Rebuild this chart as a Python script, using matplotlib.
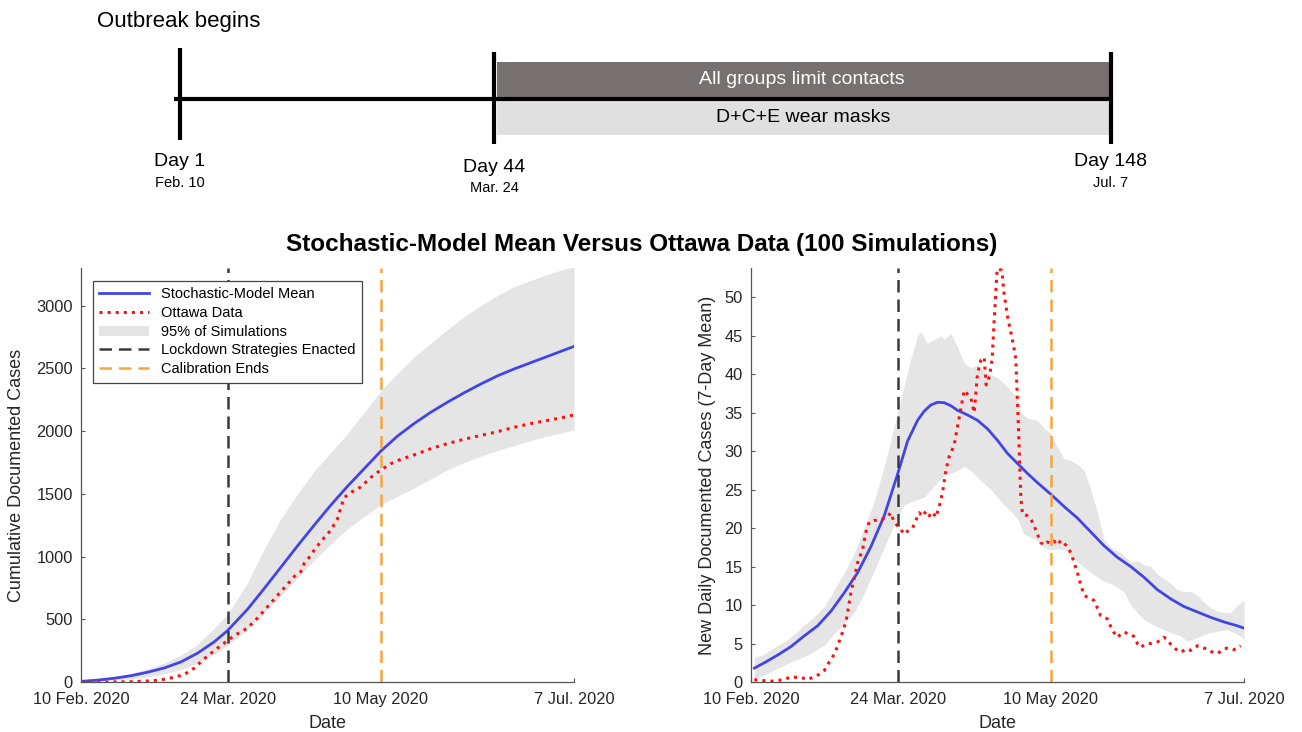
import matplotlib
matplotlib.use("Agg")
import matplotlib.pyplot as plt
import numpy as np
from matplotlib.lines import Line2D
from matplotlib.patches import Patch, Rectangle

plt.rcParams['font.family'] = ['Liberation Sans', 'DejaVu Sans']

# ---------------- data ----------------
# x axis: days since 10 Feb 2020
tick_days = [0, 44, 90, 148]
tick_labels = ['10 Feb. 2020', '24 Mar. 2020', '10 May 2020', '7 Jul. 2020']
lockdown_day = 44
calib_end_day = 90

# Left: cumulative documented cases
cum_days = [0, 5, 10, 15, 20, 25, 30, 35, 40, 44, 50, 55, 60, 65, 70, 75, 80, 85, 90,
            95, 100, 105, 110, 115, 120, 125, 130, 135, 140, 145, 148]
cum_mean = [5, 15, 30, 50, 78, 112, 160, 230, 320, 410, 580, 745, 915, 1085, 1250, 1410,
            1560, 1700, 1840, 1960, 2060, 2150, 2230, 2305, 2375, 2440, 2495, 2545, 2595,
            2645, 2675]
cum_upper = [8, 22, 42, 68, 105, 150, 215, 300, 430, 540, 790, 1060, 1300, 1500, 1680, 1830,
             1980, 2150, 2320, 2460, 2590, 2700, 2810, 2910, 3000, 3080, 3150, 3200, 3250,
             3290, 3310]
cum_lower = [2, 8, 15, 25, 40, 65, 100, 150, 220, 290, 420, 550, 690, 830, 970, 1100, 1220,
             1320, 1415, 1480, 1545, 1620, 1690, 1750, 1800, 1845, 1885, 1925, 1960, 1990,
             2010]

ott_cum_days = [0, 5, 10, 15, 18, 20, 23, 25, 28, 31, 34, 37, 40, 43, 46, 50, 53, 56, 59, 62,
                64, 66, 67, 68, 70, 72, 75, 77, 78, 79, 81, 84, 87, 90, 93, 96, 100, 105, 110,
                115, 120, 125, 130, 135, 140, 145, 148]
ott_cum = [0, 0, 1, 2, 5, 8, 14, 22, 38, 60, 110, 185, 250, 310, 370, 430, 510, 600, 690, 780,
           840, 880, 945, 975, 1050, 1120, 1210, 1300, 1390, 1470, 1510, 1555, 1630, 1690,
           1740, 1775, 1810, 1860, 1900, 1935, 1965, 1995, 2030, 2060, 2085, 2110, 2130]

# Right: new daily documented cases (7-day mean)
daily_days = [1, 4, 8, 12, 16, 20, 24, 28, 32, 36, 40, 44, 47, 50, 52, 54, 56, 58, 60, 62,
              65, 68, 71, 74, 77, 80, 83, 86, 90, 94, 98, 102, 106, 110, 114, 118, 122, 126,
              130, 134, 138, 142, 146, 148]
daily_mean = [1.8, 2.5, 3.5, 4.6, 6.0, 7.3, 9.2, 11.6, 14.2, 17.6, 21.6, 27.0, 31.3, 34.0,
              35.2, 36.0, 36.35, 36.3, 35.9, 35.3, 34.7, 34.0, 32.9, 31.4, 29.7, 28.4, 27.1,
              25.9, 24.4, 22.8, 21.3, 19.5, 17.7, 16.2, 15.0, 13.6, 12.0, 10.8, 9.8, 9.1, 8.4,
              7.8, 7.3, 7.0]

up_days = [1, 4, 7, 10, 13, 16, 19, 22, 25, 28, 31, 34, 37, 40, 42, 44, 46, 48, 50, 51, 53,
           55, 57, 58, 60, 62, 64, 66, 68, 70, 72, 74, 76, 78, 80, 81, 83, 86, 88, 90, 92, 94,
           96, 98, 100, 102, 104, 106, 108, 111, 114, 116, 118, 120, 122, 124, 126, 128, 130,
           132, 134, 136, 138, 140, 142, 144, 146, 148]
daily_upper = [3.2, 3.6, 4.5, 5.2, 6.2, 7.4, 8.5, 9.8, 12.0, 14.2, 16.7, 20.0, 23.5, 28.0,
               31.5, 35.0, 38.5, 42.0, 45.0, 45.5, 44.0, 44.5, 45.0, 44.5, 45.3, 43.5, 41.5,
               40.8, 41.2, 40.4, 40.0, 39.5, 38.8, 37.8, 37.0, 35.0, 34.3, 34.0, 33.0, 32.3,
               30.5, 29.0, 28.8, 28.3, 27.5, 25.0, 22.0, 18.5, 17.5, 16.8, 15.6, 15.8, 15.2,
               15.0, 14.0, 13.4, 12.8, 12.0, 11.7, 11.8, 11.2, 10.4, 9.6, 9.2, 9.0, 9.0, 10.0,
               10.6]
lo_days = [1, 4, 7, 10, 13, 16, 19, 22, 25, 28, 31, 34, 37, 40, 43, 46, 49, 52, 55, 58, 61,
           64, 66, 68, 70, 72, 74, 76, 78, 80, 82, 84, 86, 88, 90, 92, 94, 96, 98, 100, 103,
           106, 109, 112, 114, 116, 118, 120, 123, 126, 129, 131, 134, 137, 140, 143, 146, 148]
daily_lower = [0.4, 0.9, 1.6, 2.2, 2.8, 3.3, 4.0, 4.8, 6.3, 7.6, 9.0, 11.5, 14.5, 17.5, 20.5,
               23.0, 23.6, 24.0, 25.5, 26.8, 27.3, 28.0, 27.5, 26.6, 25.8, 25.0, 24.0, 23.0,
               22.2, 21.2, 19.2, 18.8, 18.4, 17.5, 17.2, 17.3, 17.2, 16.3, 15.6, 14.9, 13.9,
               13.1, 12.6, 11.7, 10.0, 9.0, 8.1, 7.6, 7.0, 6.4, 6.0, 5.3, 5.8, 6.3, 6.6, 6.8,
               6.2, 5.6]

ott_days = [1, 3, 6, 8, 10, 12, 13.5, 15, 17, 19, 20.5, 22, 23.5, 25, 26, 27.5, 28.5, 30, 31,
            32, 33.5, 34.5, 35.5, 37, 39, 40, 41, 42, 43, 44, 45, 46, 47, 48.5, 49.5, 50.5,
            51.5, 52.5, 53.5, 54.5, 55.5, 56.5, 57.5, 58.5, 59.5, 61, 62, 63, 64, 65, 66, 67,
            68, 69, 70, 70.6, 71.6, 72.4, 73, 73.9, 75.3, 76, 77, 78.7, 79.5, 80.3, 81, 81.5,
            82, 83, 84, 85, 86, 87, 88, 89, 90, 91, 92, 93, 94, 95, 96, 97, 98, 99, 100, 101,
            102, 103, 104, 105, 106, 107, 108, 109, 110, 111, 112, 113, 114, 115, 116, 117,
            118, 119, 120, 121, 122, 123, 124, 125, 126, 127, 128, 129, 130, 131, 132, 133,
            134, 135, 136, 137, 138, 139, 140, 141, 142, 143, 144, 145, 146, 147]
ott_daily = [0.3, 0.2, 0.1, 0.2, 0.3, 0.7, 0.6, 0.6, 0.3, 0.7, 1.0, 1.5, 2.6, 3.6, 4.7, 6.5,
             7.8, 11.6, 13.5, 15.5, 17.2, 19.5, 20.8, 21.0, 21.0, 21.3, 21.5, 22.0, 20.7,
             20.3, 19.8, 19.2, 19.6, 20.0, 21.0, 22.0, 21.5, 22.2, 21.6, 22.1, 21.4, 22.8,
             24.6, 27.5, 29.3, 30.8, 33.2, 35.5, 37.9, 37.4, 36.9, 35.0, 40.1, 41.8, 42.2,
             38.6, 39.7, 42.0, 47.0, 53.7, 53.5, 50.4, 47.5, 44.0, 42.0, 33.0, 24.0, 21.8,
             21.8, 21.6, 21.2, 20.3, 19.2, 18.1, 17.8, 18.2, 18.0, 18.3, 17.8, 18.4, 18.0,
             17.6, 16.8, 15.5, 14.2, 12.6, 11.3, 11.0, 10.8, 10.6, 9.6, 8.6, 8.4, 8.2, 7.2,
             6.4, 5.8, 6.2, 6.5, 6.3, 6.2, 5.9, 5.0, 4.5, 4.8, 5.0, 5.0, 5.1, 5.2, 5.5, 5.8,
             5.5, 4.9, 4.5, 4.1, 3.9, 4.1, 4.3, 4.1, 4.4, 4.7, 4.6, 4.4, 4.3, 4.0, 3.8, 3.7,
             4.0, 4.3, 4.4, 4.3, 4.2, 4.5, 4.7]

# Timeline (schematic)
tl_days = ['Day 1', 'Day 44', 'Day 148']
tl_dates = ['Feb. 10', 'Mar. 24', 'Jul. 7']
tl_bars = ['All groups limit contacts', 'D+C+E wear masks']

# ---------------- style ----------------
BLUE = '#4444e6'
RED = '#ff1010'
BAND = '#e5e5e5'
DARK = '#3a3a3a'
ORANGE = '#f7a540'
W, H = 1302, 732

fig = plt.figure(figsize=(W / 100, H / 100), dpi=100)

# ---- timeline axes (pixel coordinates) ----
tl = fig.add_axes([0, 0, 1, 1])
tl.set_xlim(0, W)
tl.set_ylim(H, 0)
tl.axis('off')
tl_x = [180, 494, 1111]
tl.add_patch(Rectangle((497, 62), 613, 35, facecolor='#767070', edgecolor='none'))
tl.add_patch(Rectangle((497, 100), 613, 35, facecolor='#e0e0e0', edgecolor='none'))
tl.plot([174, 1112], [99, 99], color='black', lw=3, solid_capstyle='butt')
tl.plot([tl_x[0], tl_x[0]], [48, 140], color='black', lw=3, solid_capstyle='butt')
tl.plot([tl_x[1], tl_x[1]], [52, 144], color='black', lw=3, solid_capstyle='butt')
tl.plot([tl_x[2], tl_x[2]], [52, 144], color='black', lw=3, solid_capstyle='butt')
tl.text(802, 80, tl_bars[0], color='white', fontsize=14, ha='center', va='center')
tl.text(803, 118, tl_bars[1], color='black', fontsize=14, ha='center', va='center')
tl.text(97, 22, 'Outbreak begins', fontsize=16, ha='left', va='center')
day_y = [162, 168, 162]
date_y = [183, 188, 183]
for xx, dl, dt, yy, yd in zip(tl_x, tl_days, tl_dates, day_y, date_y):
    tl.text(xx, yy, dl, fontsize=14, ha='center', va='center')
    tl.text(xx, yd, dt, fontsize=10.5, ha='center', va='center')

fig.text(642 / W, 1 - 245 / H,
         'Stochastic-Model Mean Versus Ottawa Data (100 Simulations)',
         fontsize=17.5, fontweight='bold', ha='center', va='center')

ax1 = fig.add_axes([81 / W, 50 / H, 493 / W, 414 / H])
ax2 = fig.add_axes([751 / W, 50 / H, 493 / W, 414 / H])


def style(ax):
    for s in ['top', 'right']:
        ax.spines[s].set_visible(False)
    for s in ['left', 'bottom']:
        ax.spines[s].set_color('#555555')
        ax.spines[s].set_linewidth(0.9)
    ax.tick_params(direction='in', length=3, width=0.8, colors='#555555',
                   labelcolor='#262626', labelsize=11.8)
    ax.tick_params(axis='y', pad=6)
    ax.tick_params(axis='x', pad=7)
    ax.set_xlim(0, 148)
    ax.set_xticks(tick_days)
    ax.set_xticklabels(tick_labels)
    ax.set_xlabel('Date', fontsize=13, color='#262626', labelpad=6)


dash_kw = dict(lw=1.8, dashes=(5, 2.8))

# Left plot
ax1.fill_between(cum_days, cum_lower, cum_upper, color=BAND, lw=0)
ax1.plot(cum_days, cum_mean, color=BLUE, lw=2)
ax1.plot(ott_cum_days, ott_cum, color=RED, lw=2.2, ls=':')
ax1.axvline(lockdown_day, color=DARK, **dash_kw)
ax1.axvline(calib_end_day, color=ORANGE, **dash_kw)
ax1.set_ylim(0, 3300)
ax1.set_yticks(range(0, 3001, 500))
ax1.set_ylabel('Cumulative Documented Cases', fontsize=13, color='#262626', labelpad=8)
style(ax1)

handles = [Line2D([], [], color=BLUE, lw=2),
           Line2D([], [], color=RED, lw=2.2, ls=':'),
           Patch(facecolor=BAND, edgecolor='none'),
           Line2D([], [], color=DARK, **dash_kw),
           Line2D([], [], color=ORANGE, **dash_kw)]
labels = ['Stochastic-Model Mean', 'Ottawa Data', '95% of Simulations',
          'Lockdown Strategies Enacted', 'Calibration Ends']
leg = ax1.legend(handles, labels, loc='upper left', bbox_to_anchor=(0.024, 0.969),
                 borderaxespad=0, fontsize=10.5, handlelength=3.4, handletextpad=0.8,
                 labelspacing=0.32, fancybox=False, framealpha=1, borderpad=0.45)
leg.get_frame().set_edgecolor('#444444')
leg.get_frame().set_linewidth(0.9)

# Right plot
grid = np.arange(1, 149)
ax2.fill_between(grid, np.interp(grid, lo_days, daily_lower),
                 np.interp(grid, up_days, daily_upper), color=BAND, lw=0)
ax2.plot(daily_days, daily_mean, color=BLUE, lw=2)
ax2.plot(ott_days, ott_daily, color=RED, lw=2.2, ls=':')
ax2.axvline(lockdown_day, color=DARK, **dash_kw)
ax2.axvline(calib_end_day, color=ORANGE, **dash_kw)
ax2.set_ylim(0, 53.8)
ax2.set_yticks(range(0, 51, 5))
ax2.set_ylabel('New Daily Documented Cases (7-Day Mean)', fontsize=13, color='#262626',
               labelpad=6)
style(ax2)

fig.savefig('out.png', dpi=100)
